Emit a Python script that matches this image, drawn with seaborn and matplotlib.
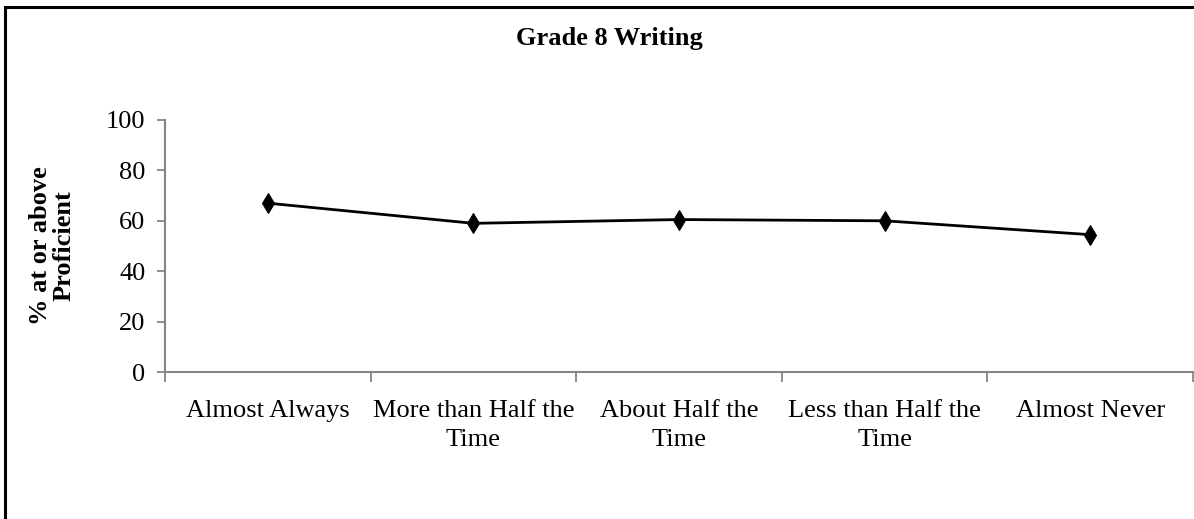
import matplotlib
matplotlib.use("Agg")
import matplotlib.pyplot as plt
import seaborn as sns
import pandas as pd
from matplotlib.patches import Rectangle

categories = ["Almost Always", "More than Half the\nTime", "About Half the\nTime",
              "Less than Half the\nTime", "Almost Never"]
values = [67, 59, 60.5, 60, 54.5]
yticks = [0, 20, 40, 60, 80, 100]
title = "Grade 8 Writing"
ylabel = "% at or above\nProficient"

sns.set_theme(style="white")
plt.rcParams['font.family'] = ['Liberation Serif', 'DejaVu Serif']
plt.rcParams['text.color'] = 'black'
plt.rcParams['axes.labelcolor'] = 'black'
plt.rcParams['xtick.color'] = '#868686'
plt.rcParams['ytick.color'] = '#868686'

fig = plt.figure(figsize=(11.94, 5.19), dpi=100)
ax = fig.add_axes([0.1382, 0.2832, 0.861, 0.4856])

df = pd.DataFrame({"cat": categories, "val": values})
sns.lineplot(data=df, x="cat", y="val", ax=ax, color="black", linewidth=2,
             marker="d", markersize=10, markeredgecolor="black", markerfacecolor="black",
             sort=False)

ax.set_xlim(-0.5, len(categories) - 0.5)
ax.set_ylim(0, 100)
ax.set_yticks(yticks)
ax.set_yticklabels([str(t) for t in yticks], fontsize=19, color="black")
ax.set_xticks(range(len(categories)))
ax.set_xticklabels(categories, fontsize=19, linespacing=1.45, color="black")
ax.set_xticks([i - 0.5 for i in range(len(categories) + 1)], minor=True)
ax.tick_params(axis="x", which="major", length=0, pad=20)
ax.tick_params(axis="x", which="minor", length=7, width=1.3, color="#868686", direction="out", bottom=True)
ax.tick_params(axis="y", which="major", length=6, width=1.3, color="#868686", direction="out", left=True, pad=8)
for s in ["top", "right"]:
    ax.spines[s].set_visible(False)
for s in ["left", "bottom"]:
    ax.spines[s].set_color("#868686")
    ax.spines[s].set_linewidth(1.5)
ax.set_xlabel("")
ax.set_ylabel(ylabel, fontsize=19, fontweight="bold", labelpad=22, linespacing=1.05, color="black")
ax.grid(False)

fig.text(0.51, 0.925, title, ha="center", va="center", fontsize=19, fontweight="bold", color="black")

fig.patches.append(Rectangle((5 / 1194, -0.2), 1.2, 1.2 - 7 / 519, transform=fig.transFigure,
                             fill=False, edgecolor="black", linewidth=2.2, zorder=10))

fig.savefig("out.png", dpi=100)
